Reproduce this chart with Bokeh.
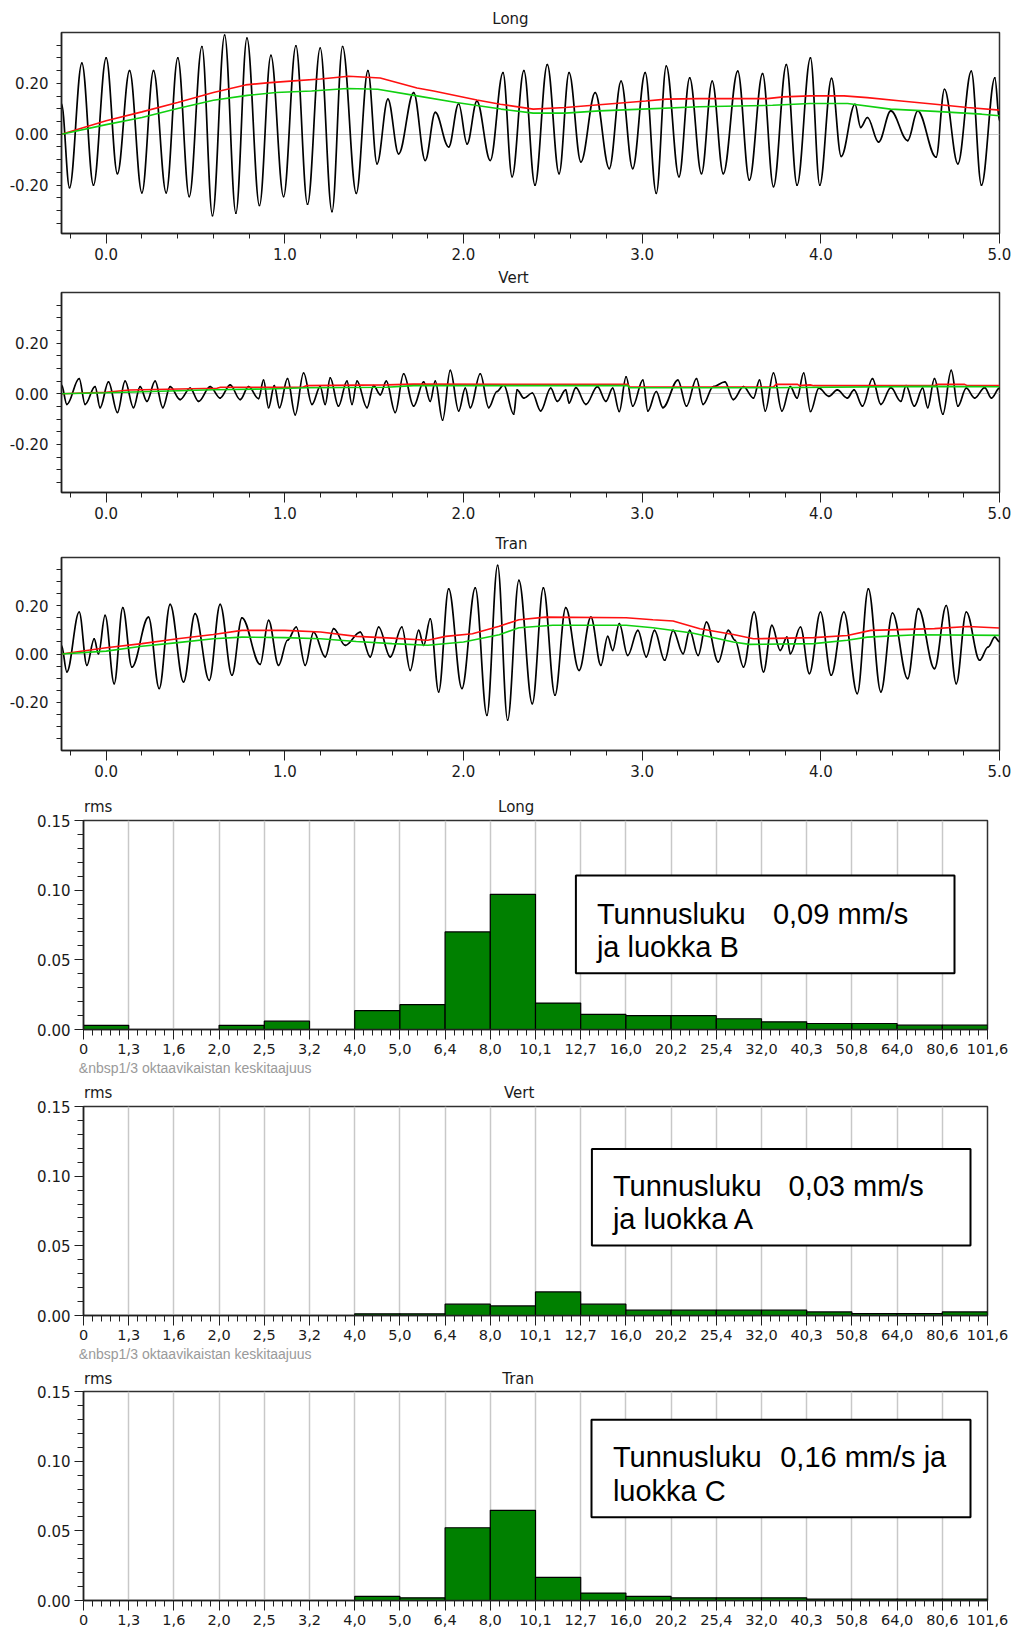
from bokeh.plotting import figure
from bokeh.models import (FixedTicker, Label, BoxAnnotation, Range1d, PrintfTickFormatter,
                          ColumnDataSource, LinearAxis)
from bokeh.layouts import column
from bokeh.embed import file_html
from bokeh.resources import INLINE

# ---------------- data ----------------
# waveform extremes (time s, value mm/s)
long_t = [-0.25, -0.205, -0.136, -0.071, 0.0, 0.063, 0.131, 0.2, 0.265, 0.336, 0.401, 0.465, 0.536, 0.595,
          0.663, 0.726, 0.788, 0.858, 0.922, 0.993, 1.062, 1.127, 1.198, 1.264, 1.323, 1.40, 1.465, 1.516,
          1.577, 1.637, 1.721, 1.786, 1.842, 1.917, 1.973, 2.02, 2.075, 2.15, 2.221, 2.272, 2.338, 2.40,
          2.469, 2.535, 2.591, 2.657, 2.737, 2.816, 2.882, 2.947, 3.017, 3.079, 3.135, 3.206, 3.266, 3.332,
          3.392, 3.454, 3.535, 3.60, 3.674, 3.735, 3.807, 3.867, 3.942, 3.994, 4.06, 4.114, 4.191, 4.223,
          4.261, 4.323, 4.392, 4.486, 4.542, 4.645, 4.692, 4.767, 4.842, 4.899, 4.974, 5.0]
long_v = [0.12, -0.21, 0.28, -0.20, 0.30, -0.155, 0.25, -0.23, 0.25, -0.23, 0.30, -0.245, 0.345, -0.32,
          0.39, -0.31, 0.378, -0.28, 0.31, -0.245, 0.348, -0.275, 0.339, -0.304, 0.345, -0.232, 0.25, -0.116,
          0.138, -0.077, 0.164, -0.103, 0.086, -0.05, 0.12, -0.038, 0.13, -0.103, 0.242, -0.167, 0.25, -0.20,
          0.274, -0.155, 0.242, -0.109, 0.164, -0.135, 0.209, -0.135, 0.242, -0.232, 0.268, -0.167, 0.222,
          -0.155, 0.209, -0.155, 0.248, -0.18, 0.238, -0.206, 0.274, -0.20, 0.30, -0.20, 0.22, -0.087, 0.118,
          0.027, 0.066, -0.031, 0.092, -0.025, 0.092, -0.09, 0.177, -0.116, 0.248, -0.20, 0.222, 0.053]
long_red_t = [-0.25, 0.0, 0.2, 0.4, 0.6, 0.78, 0.9, 1.05, 1.2, 1.357, 1.534, 1.74, 1.833, 2.075, 2.206, 2.39,
              2.57, 2.76, 3.02, 3.135, 3.32, 3.70, 3.79, 3.94, 4.13, 4.26, 4.45, 4.64, 4.82, 5.0]
long_red_v = [0.0, 0.053, 0.088, 0.125, 0.164, 0.194, 0.202, 0.21, 0.217, 0.228, 0.221, 0.182, 0.17, 0.135,
              0.118, 0.099, 0.105, 0.116, 0.131, 0.138, 0.14, 0.14, 0.147, 0.151, 0.151, 0.144, 0.131, 0.118,
              0.105, 0.095]
long_green_t = [-0.25, 0.0, 0.2, 0.4, 0.6, 0.79, 0.95, 1.15, 1.35, 1.52, 1.74, 1.96, 2.21, 2.39, 2.57, 2.76,
                3.0, 3.32, 3.73, 3.94, 4.15, 4.39, 4.64, 4.9, 5.0]
long_green_v = [0.0, 0.038, 0.066, 0.101, 0.134, 0.153, 0.164, 0.17, 0.18, 0.177, 0.151, 0.125, 0.099, 0.083,
                0.083, 0.092, 0.099, 0.108, 0.114, 0.121, 0.121, 0.099, 0.09, 0.079, 0.073]

vert_t = [-0.25, -0.22, -0.151, -0.118, -0.062, -0.034, 0.013, 0.063, 0.106, 0.153, 0.19, 0.228, 0.274, 0.317,
          0.358, 0.414, 0.47, 0.517, 0.582, 0.638, 0.694, 0.75, 0.797, 0.853, 0.881, 0.909, 0.941, 0.97, 1.015,
          1.058, 1.105, 1.152, 1.198, 1.226, 1.254, 1.30, 1.348, 1.376, 1.404, 1.46, 1.497, 1.534, 1.568, 1.618,
          1.665, 1.721, 1.777, 1.814, 1.842, 1.883, 1.926, 1.973, 2.01, 2.038, 2.094, 2.141, 2.187, 2.225,
          2.281, 2.30, 2.338, 2.385, 2.432, 2.488, 2.525, 2.572, 2.591, 2.629, 2.685, 2.75, 2.797, 2.835, 2.872,
          2.91, 2.947, 3.004, 3.032, 3.079, 3.116, 3.20, 3.248, 3.304, 3.341, 3.398, 3.463, 3.51, 3.567, 3.623,
          3.657, 3.689, 3.735, 3.782, 3.829, 3.867, 3.904, 3.942, 3.989, 4.045, 4.092, 4.148, 4.186, 4.233,
          4.289, 4.336, 4.392, 4.448, 4.477, 4.523, 4.57, 4.598, 4.636, 4.683, 4.73, 4.767, 4.814, 4.861, 4.917,
          4.955, 5.0]
vert_v = [0.035, -0.042, 0.06, -0.042, 0.028, -0.055, 0.047, -0.074, 0.05, -0.055, 0.028, -0.03, 0.05, -0.055,
          0.028, -0.023, 0.022, -0.03, 0.028, -0.017, 0.035, -0.023, 0.028, -0.019, 0.054, -0.055, 0.032, -0.055,
          0.06, -0.083, 0.082, -0.042, 0.028, -0.042, 0.063, -0.049, 0.05, -0.042, 0.05, -0.055, 0.032, -0.004,
          0.05, -0.074, 0.079, -0.049, 0.047, -0.03, 0.05, -0.104, 0.092, -0.068, 0.022, -0.055, 0.079, -0.055,
          0.009, 0.035, -0.081, 0.015, -0.017, 0.003, -0.068, 0.022, -0.03, 0.015, -0.036, 0.024, -0.042, 0.028,
          -0.03, 0.022, -0.07, 0.067, -0.049, 0.054, -0.068, 0.009, -0.055, 0.054, -0.049, 0.06, -0.042, 0.028,
          0.047, -0.023, 0.028, -0.017, 0.054, -0.068, 0.082, -0.068, 0.028, -0.017, 0.082, -0.07, 0.022, -0.01,
          0.015, -0.017, 0.015, -0.049, 0.06, -0.042, 0.024, -0.03, 0.032, -0.049, 0.022, -0.055, 0.06, -0.081,
          0.092, -0.049, 0.022, -0.017, 0.024, -0.017, 0.022]
vert_red_t = [-0.25, 0.0, 0.13, 0.62, 0.64, 1.1, 1.12, 1.57, 1.72, 2.92, 2.93, 3.735, 3.75, 3.87, 3.88, 3.94,
              3.96, 4.636, 4.65, 4.805, 4.82, 5.0]
vert_red_v = [0.0, 0.006, 0.015, 0.022, 0.026, 0.026, 0.032, 0.035, 0.038, 0.037, 0.027, 0.027, 0.037, 0.037,
              0.032, 0.035, 0.032, 0.032, 0.037, 0.037, 0.032, 0.032]
vert_green_t = [-0.25, 0.0, 0.6, 0.9, 1.12, 1.57, 1.72, 2.92, 2.93, 3.7, 4.6, 5.0]
vert_green_v = [0.0, 0.004, 0.016, 0.019, 0.024, 0.026, 0.032, 0.032, 0.024, 0.024, 0.029, 0.028]

tran_t = [-0.25, -0.22, -0.151, -0.108, -0.067, -0.043, -0.006, 0.045, 0.093, 0.144, 0.237, 0.297, 0.358, 0.433,
          0.498, 0.577, 0.638, 0.704, 0.76, 0.862, 0.909, 0.965, 1.015, 1.064, 1.114, 1.161, 1.226, 1.273, 1.338,
          1.422, 1.478, 1.525, 1.59, 1.655, 1.702, 1.749, 1.777, 1.814, 1.861, 1.917, 1.991, 2.066, 2.131, 2.191,
          2.247, 2.31, 2.385, 2.447, 2.512, 2.572, 2.647, 2.713, 2.769, 2.807, 2.835, 2.872, 2.919, 2.976, 3.023,
          3.069, 3.126, 3.173, 3.229, 3.266, 3.313, 3.36, 3.426, 3.482, 3.52, 3.567, 3.627, 3.679, 3.726, 3.773,
          3.81, 3.829, 3.886, 3.936, 3.998, 4.058, 4.129, 4.204, 4.266, 4.336, 4.401, 4.486, 4.546, 4.636, 4.702,
          4.758, 4.814, 4.889, 4.936, 4.974, 5.0]
tran_v = [0.036, -0.074, 0.174, -0.047, 0.063, 0.001, 0.16, -0.123, 0.192, -0.054, 0.153, -0.143, 0.206, -0.116,
          0.167, -0.109, 0.206, -0.088, 0.15, -0.043, 0.139, -0.047, 0.057, 0.112, -0.047, 0.091, -0.012, 0.105,
          0.036, 0.091, -0.012, 0.112, -0.012, 0.112, -0.068, 0.098, 0.036, 0.146, -0.157, 0.27, -0.143, 0.274,
          -0.254, 0.367, -0.274, 0.305, -0.206, 0.274, -0.171, 0.192, -0.068, 0.153, -0.047, 0.073, 0.015, 0.126,
          -0.006, 0.098, -0.012, 0.098, -0.026, 0.098, 0.001, 0.098, -0.006, 0.132, -0.033, 0.098, 0.057, -0.054,
          0.174, -0.074, 0.119, 0.015, 0.07, 0.001, 0.112, -0.081, 0.174, -0.088, 0.174, -0.164, 0.27, -0.157,
          0.17, -0.102, 0.188, -0.061, 0.201, -0.123, 0.174, -0.026, 0.029, 0.07, 0.05]
tran_red_t = [-0.25, 0.0, 0.2, 0.4, 0.6, 0.76, 1.0, 1.2, 1.4, 1.6, 1.8, 1.9, 2.05, 2.2, 2.31, 2.46, 2.91, 3.06,
              3.173, 3.323, 3.51, 3.623, 3.96, 4.148, 4.28, 4.636, 4.824, 5.0]
tran_red_v = [0.0, 0.026, 0.043, 0.063, 0.081, 0.098, 0.098, 0.091, 0.073, 0.066, 0.057, 0.073, 0.084, 0.115,
              0.142, 0.153, 0.15, 0.142, 0.137, 0.105, 0.081, 0.063, 0.068, 0.077, 0.098, 0.105, 0.114, 0.108]
tran_green_t = [-0.25, 0.0, 0.2, 0.4, 0.6, 0.76, 1.0, 1.2, 1.4, 1.6, 1.8, 2.0, 2.2, 2.31, 2.5, 2.91, 3.06, 3.28,
                3.51, 3.6, 3.96, 4.148, 4.26, 4.54, 5.0]
tran_green_v = [0.0, 0.012, 0.032, 0.047, 0.063, 0.07, 0.068, 0.063, 0.052, 0.043, 0.036, 0.05, 0.08, 0.109,
                0.119, 0.119, 0.109, 0.087, 0.05, 0.04, 0.043, 0.057, 0.07, 0.08, 0.077]

# 1/3-octave band centre frequencies (tick labels) and rms per band
bands = ["0", "1,3", "1,6", "2,0", "2,5", "3,2", "4,0", "5,0", "6,4", "8,0", "10,1", "12,7", "16,0", "20,2",
         "25,4", "32,0", "40,3", "50,8", "64,0", "80,6", "101,6"]
long_rms = [0.003, 0.0, 0.0, 0.003, 0.006, 0.0, 0.0135, 0.0178, 0.070, 0.097, 0.019, 0.0108, 0.0099, 0.0099,
            0.0077, 0.0055, 0.0043, 0.0043, 0.0031, 0.0031]
vert_rms = [0.0, 0.0, 0.0, 0.0, 0.0, 0.0, 0.0012, 0.0012, 0.0081, 0.0069, 0.0169, 0.0081, 0.0038, 0.0038,
            0.0038, 0.0038, 0.0026, 0.0014, 0.0014, 0.0026]
tran_rms = [0.0, 0.0, 0.0, 0.0, 0.0, 0.0, 0.0029, 0.0019, 0.0522, 0.0647, 0.0166, 0.0053, 0.0029, 0.0019,
            0.0019, 0.0019, 0.001, 0.001, 0.001, 0.001]

titles = ["Long", "Vert", "Tran"]
box_texts = [
    [("Tunnusluku", 596.7, 0), ("0,09 mm/s", 772.7, 0), ("ja luokka B", 596.7, 1)],
    [("Tunnusluku", 612.7, 0), ("0,03 mm/s", 788.3, 0), ("ja luokka A", 612.7, 1)],
    [("Tunnusluku", 612.7, 0), ("0,16 mm/s ja", 780.0, 0), ("luokka C", 612.7, 1)],
]
xlabel_text = "&nbsp1/3 oktaavikaistan keskitaajuus"

# ---------------- layout (page pixels) ----------------
TICK_FONT = "DejaVu Sans"
BOX_FONT = "Liberation Sans"
W = 1014
INK = "#202020"


class Geo:
    def __init__(self, fig_top, fig_h, L, R, T, B, xr, yr):
        self.fig_top, self.fig_h, self.L, self.R, self.T, self.B = fig_top, fig_h, L, R, T, B
        self.xr, self.yr = xr, yr

    def dx(self, px):
        return self.xr[0] + (px - self.L) / (self.R - self.L) * (self.xr[1] - self.xr[0])

    def dy(self, py):
        return self.yr[0] + (self.B - py) / (self.B - self.T) * (self.yr[1] - self.yr[0])


def base_fig(g):
    p = figure(width=W, height=g.fig_h, x_range=Range1d(*g.xr), y_range=Range1d(*g.yr),
               output_backend="svg", toolbar_location=None,
               min_border_left=int(round(g.L)), min_border_right=int(round(W - g.R)),
               min_border_top=int(round(g.T - g.fig_top)),
               min_border_bottom=int(round(g.fig_top + g.fig_h - g.B)))
    if "frame_align" in p.properties():
        p.frame_align = False
    p.extra_x_ranges = {"page": Range1d(g.L, g.R)}
    p.background_fill_color = "white"
    p.border_fill_color = "white"
    p.outline_line_color = "#303030"
    p.outline_line_width = 1.5
    for ax in (p.xaxis[0], p.yaxis[0]):
        ax.axis_line_color = INK
        ax.axis_line_width = 1.5
        ax.major_tick_line_color = INK
        ax.minor_tick_line_color = INK
        ax.major_tick_in = 0
        ax.minor_tick_in = 0
        ax.major_label_text_font = TICK_FONT
        ax.major_label_text_font_size = "15px"
        ax.major_label_text_color = "#1a1a1a"
    return p


def text_axis(p, side, items, font, size, color, standoff):
    ticks = [int(round(x)) for x, _ in items]
    ax = LinearAxis(x_range_name="page", ticker=FixedTicker(ticks=ticks, minor_ticks=[]),
                    major_label_overrides={tk: txt for tk, (_, txt) in zip(ticks, items)},
                    axis_line_color=None, major_tick_line_color=None, minor_tick_line_color=None,
                    major_tick_out=0, major_tick_in=0, minor_tick_out=0, minor_tick_in=0,
                    major_label_standoff=standoff, major_label_text_font=font,
                    major_label_text_font_size=size, major_label_text_color=color)
    p.add_layout(ax, side)


def add_label(p, x, y, text, size, align="left", baseline="alphabetic", color="black"):
    p.add_layout(Label(x=x, y=y, text=text, text_font=BOX_FONT, text_font_size=size, text_color=color,
                       text_align=align, text_baseline=baseline))


def smooth_line(p, t, v, color, width):
    x0, x1, y0, y1 = t[:-1], t[1:], v[:-1], v[1:]
    k = 0.36
    cx0 = [a + k * (b - a) for a, b in zip(x0, x1)]
    cx1 = [b - k * (b - a) for a, b in zip(x0, x1)]
    p.bezier(x0=x0, y0=y0, x1=x1, y1=y1, cx0=cx0, cy0=y0, cx1=cx1, cy1=y1,
             line_color=color, line_width=width, line_cap="round")


wave_geo = [
    (Geo(0, 265, 61, 999, 32, 233, (-0.25, 5.0), (-0.39, 0.40)), 510, 5),
    (Geo(265, 265, 61, 999, 291, 492, (-0.25, 5.0), (-0.39, 0.40)), 513, 6),
    (Geo(530, 260, 61, 999, 557, 750, (-0.25, 5.0), (-0.40, 0.40)), 511, 5),
]
wave_data = [
    (long_t, long_v, long_red_t, long_red_v, long_green_t, long_green_v),
    (vert_t, vert_v, vert_red_t, vert_red_v, vert_green_t, vert_green_v),
    (tran_t, tran_v, tran_red_t, tran_red_v, tran_green_t, tran_green_v),
]

wave_minor_x = [round(-0.2 + 0.2 * k, 1) for k in range(27)
                if abs(round(-0.2 + 0.2 * k, 1) - round(-0.2 + 0.2 * k)) > 1e-6]
wave_minor_y = [-0.35, -0.30, -0.25, -0.15, -0.10, -0.05, 0.05, 0.10, 0.15, 0.25, 0.30, 0.35]

figs = []
for (g, tx, tso), name, (t, v, rt, rv, gt, gv) in zip(wave_geo, titles, wave_data):
    p = base_fig(g)
    p.xaxis.ticker = FixedTicker(ticks=[0, 1, 2, 3, 4, 5], minor_ticks=wave_minor_x)
    p.xaxis.formatter = PrintfTickFormatter(format="%.1f")
    p.xaxis.major_tick_out = 10
    p.xaxis.minor_tick_out = 5
    p.xaxis.major_label_standoff = 4
    p.yaxis.ticker = FixedTicker(ticks=[-0.2, 0.0, 0.2], minor_ticks=wave_minor_y)
    p.yaxis.formatter = PrintfTickFormatter(format="%.2f")
    p.yaxis.major_tick_out = 5
    p.yaxis.minor_tick_out = 5
    p.yaxis.major_label_standoff = 8
    p.xgrid.visible = False
    p.ygrid.ticker = FixedTicker(ticks=[0.0])
    p.ygrid.grid_line_color = "#c4c4c4"
    p.ygrid.grid_line_width = 1.2
    smooth_line(p, t, v, "black", 1.7)
    p.line(rt, rv, line_color="#ff1010", line_width=1.6)
    p.line(gt, gv, line_color="#10d010", line_width=1.6)
    text_axis(p, "above", [(tx, name)], TICK_FONT, "15px", "#1a1a1a", tso)
    figs.append(p)

bar_geo = [
    (Geo(790, 290, 83.3, 987.3, 820, 1029, (0, 20), (0, 0.15)), 515.5, 5, True,
     (575.7, 954.3, 875, 972.7), (913.3, 946.7)),
    (Geo(1080, 285, 83.3, 987.3, 1105, 1315, (0, 20), (0, 0.15)), 519, 5, True,
     (591.7, 970.3, 1147.7, 1244.7), (1185, 1218.3)),
    (Geo(1365, 265, 83.3, 987.3, 1391, 1600, (0, 20), (0, 0.15)), 517.5, 4, False,
     (591.3, 970.3, 1419.3, 1516.7), (1456.7, 1490)),
]
bar_data = [long_rms, vert_rms, tran_rms]

bar_minor_x = [i + k * 0.2 for i in range(20) for k in range(1, 5)]
bar_minor_y = [k / 100 for k in range(1, 15) if k % 5 != 0]

for idx, ((g, tx, tso, has_xlabel, box, base_y), name, vals) in enumerate(zip(bar_geo, titles, bar_data)):
    p = base_fig(g)
    p.xaxis.ticker = FixedTicker(ticks=list(range(21)), minor_ticks=bar_minor_x)
    p.xaxis.major_label_overrides = {i: lab for i, lab in enumerate(bands)}
    p.xaxis.major_label_text_font_size = "14.5px"
    p.xaxis.major_tick_out = 10
    p.xaxis.minor_tick_out = 6
    p.xaxis.major_label_standoff = 4
    p.yaxis.ticker = FixedTicker(ticks=[0.0, 0.05, 0.10, 0.15], minor_ticks=bar_minor_y)
    p.yaxis.formatter = PrintfTickFormatter(format="%.2f")
    p.yaxis.major_tick_out = 9
    p.yaxis.minor_tick_out = 6
    p.yaxis.major_label_standoff = 4
    p.ygrid.visible = False
    p.xgrid.ticker = FixedTicker(ticks=list(range(1, 20)))
    p.xgrid.grid_line_color = "#c8c8c8"
    p.xgrid.grid_line_width = 1.5
    src = ColumnDataSource(dict(left=list(range(20)), right=list(range(1, 21)), top=vals))
    p.quad(left="left", right="right", bottom=0, top="top", source=src,
           fill_color="#008000", line_color="black", line_width=1.2)
    text_axis(p, "above", [(97.6, "rms"), (tx, name)], TICK_FONT, "15px", "#1a1a1a", tso)
    if has_xlabel:
        text_axis(p, "below", [(195.0, xlabel_text)], BOX_FONT, "14px", "#9a9a9a", 3)
    bl, br, bt, bb = box
    p.add_layout(BoxAnnotation(left=g.dx(bl), right=g.dx(br), top=g.dy(bt), bottom=g.dy(bb),
                               fill_color="white", fill_alpha=1.0, line_color="black", line_width=2,
                               line_alpha=1.0))
    for text, x, line in box_texts[idx]:
        add_label(p, g.dx(x), g.dy(base_y[line]), text, "29px")
    figs.append(p)

layout = column(*figs, spacing=0)
open("out.html", "w").write(file_html(layout, INLINE))
